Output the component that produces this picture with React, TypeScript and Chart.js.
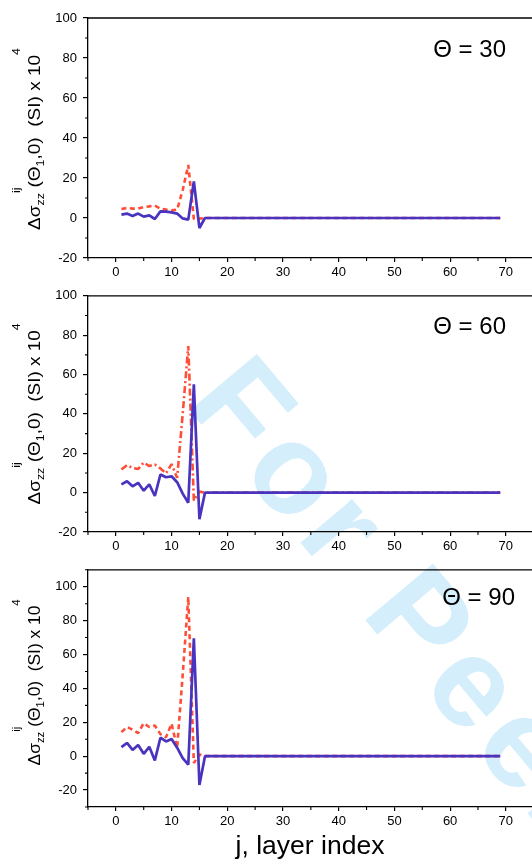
import React, { useEffect, useRef } from "react";
import { Chart, registerables } from "chart.js";

Chart.register(...registerables);

// ---------- data ----------
const layers = [
  1, 2, 3, 4, 5, 6, 7, 8, 9, 10, 11, 12, 13, 14, 15, 16, 17, 18, 19, 20,
  21, 22, 23, 24, 25, 26, 27, 28, 29, 30, 31, 32, 33, 34, 35, 36, 37, 38, 39, 40,
  41, 42, 43, 44, 45, 46, 47, 48, 49, 50, 51, 52, 53, 54, 55, 56, 57, 58, 59, 60,
  61, 62, 63, 64, 65, 66, 67, 68, 69,
];

// values for layers 17..69 (flat at zero in every panel)
const flatTail = [
  0, 0, 0, 0, 0, 0, 0, 0, 0, 0, 0, 0, 0, 0, 0, 0, 0, 0, 0, 0,
  0, 0, 0, 0, 0, 0, 0, 0, 0, 0, 0, 0, 0, 0, 0, 0, 0, 0, 0, 0,
  0, 0, 0, 0, 0, 0, 0, 0, 0, 0, 0, 0, 0,
];

// layers 1..16
const theta30Blue = [1.7, 2.2, 1.0, 2.2, 0.7, 1.3, -0.5, 3.3, 3.2, 2.8, 2.2, -0.2, -0.8, 18.3, -5.0, 0];
const theta30Red = [4.5, 5.0, 4.7, 4.7, 5.5, 5.8, 6.2, 4.7, 4.2, 3.8, 4.2, 14.0, 26.5, -0.5, -0.3, 0];
const theta60Blue = [4.2, 5.8, 3.2, 5.0, 1.0, 4.2, -1.7, 9.2, 7.8, 8.3, 5.3, -0.5, -5.1, 55.0, -13.5, 0];
const theta60Red = [11.7, 14.0, 12.5, 12.0, 15.3, 13.5, 14.3, 12.3, 9.8, 14.5, 7.5, 40.0, 74.5, -4.0, 0.5, 0];
const theta90Blue = [5.3, 7.8, 3.7, 6.6, 1.4, 5.5, -2.5, 10.9, 8.7, 10.1, 5.0, -1.2, -5.0, 69.6, -17.0, 0];
const theta90Red = [14.2, 17.2, 15.6, 13.6, 19.5, 17.2, 18.1, 13.0, 11.1, 19.2, 5.0, 48.0, 94.0, -4.0, 1.0, 0];

const panelTitles = ["\u0398 = 30", "\u0398 = 60", "\u0398 = 90"];
const xAxisTitle = "j, layer index";

const xTicks = [0, 10, 20, 30, 40, 50, 60, 70];
const xMinorTicks = [-5, 5, 15, 25, 35, 45, 55, 65];
const yTicks = [-20, 0, 20, 40, 60, 80, 100];
const yMinorShort = [-10, 10, 30, 50, 70, 90];
const yMinorTall = [-30, -10, 10, 30, 50, 70, 90, 110];

// ---------- styles ----------
const FONT = '"Liberation Sans", Arial, Helvetica, sans-serif';
const BLUE = "rgb(72, 52, 190)";
const RED = "rgb(255, 78, 56)";
const WATERMARK = "rgb(212, 238, 251)";

type Panel = {
  top: number;
  height: number;
  padTop: number;
  xAxisH: number;
  yMin: number;
  yMax: number;
  yMinor: number[];
  blue: number[];
  red: number[];
  redDash: number[];
  title: string;
  titleRight: number;
  titleBase: number;
  showXTitle: boolean;
  yTitleLen: number;
  yTitleShift: number;
};

const panels: Panel[] = [
  {
    top: 0, height: 282, padTop: 18, xAxisH: 24,
    yMin: -20, yMax: 100, yMinor: yMinorShort,
    blue: [...theta30Blue, ...flatTail], red: [...theta30Red, ...flatTail],
    redDash: [5, 3.5], title: panelTitles[0], titleRight: 506, titleBase: 57,
    showXTitle: false, yTitleLen: 182, yTitleShift: 1,
  },
  {
    top: 282, height: 274, padTop: 11, xAxisH: 24,
    yMin: -20, yMax: 100, yMinor: yMinorShort,
    blue: [...theta60Blue, ...flatTail], red: [...theta60Red, ...flatTail],
    redDash: [7, 3, 2, 3], title: panelTitles[1], titleRight: 506, titleBase: 52,
    showXTitle: false, yTitleLen: 181, yTitleShift: 0,
  },
  {
    top: 556, height: 307, padTop: 11, xAxisH: 56,
    yMin: -30, yMax: 110, yMinor: yMinorTall,
    blue: [...theta90Blue, ...flatTail], red: [...theta90Red, ...flatTail],
    redDash: [5, 3.5], title: panelTitles[2], titleRight: 515, titleBase: 49,
    showXTitle: true, yTitleLen: 166, yTitleShift: -6,
  },
];

function drawYTitle(
  ctx: CanvasRenderingContext2D,
  baseX: number,
  centerY: number,
  targetLen: number
) {
  const size = 16;
  const small = 10.5;
  const segs: [string, number][] = [
    ["\u0394\u03c3", 0],
    ["zz", 1],
    ["ij", -1],
    ["(\u0398", 0],
    ["1", 1],
    [",0)  (SI) x 10", 0],
    ["4", -1],
  ];
  const fontOf = (k: number) => `${k === 0 ? size : small}px ${FONT}`;
  let total = 0;
  const widths: number[] = [];
  for (const [t, k] of segs) {
    ctx.font = fontOf(k);
    const w = ctx.measureText(t).width;
    widths.push(w);
    total += w;
  }
  const stretch = targetLen / total;
  ctx.save();
  ctx.translate(baseX, centerY);
  ctx.rotate(-Math.PI / 2);
  ctx.scale(stretch, 1);
  ctx.fillStyle = "#000";
  ctx.textAlign = "left";
  ctx.textBaseline = "alphabetic";
  let cur = -total / 2;
  segs.forEach(([t, k], i) => {
    ctx.font = fontOf(k);
    const dy = k === 1 ? 4 : k === -1 ? -19.5 : 0;
    ctx.fillText(t, cur, dy);
    cur += widths[i];
  });
  ctx.restore();
}

const decorPlugin = {
  id: "decor",
  afterDraw(chart: any, _args: any, opts: any) {
    const { ctx, chartArea } = chart;
    const { left, right, top, bottom } = chartArea;
    const xs = chart.scales.x;
    const ys = chart.scales.y;
    ctx.save();
    ctx.strokeStyle = "#000";
    ctx.lineWidth = 1.3;
    ctx.beginPath();
    ctx.moveTo(left - 0.5, top);
    ctx.lineTo(right, top);
    ctx.stroke();
    ctx.lineWidth = 1.1;
    ctx.beginPath();
    for (const v of opts.xMinor) {
      const px = xs.getPixelForValue(v);
      ctx.moveTo(px, bottom);
      ctx.lineTo(px, bottom + 3);
    }
    for (const v of opts.yMinor) {
      const py = ys.getPixelForValue(v);
      ctx.moveTo(left, py);
      ctx.lineTo(left - 3, py);
    }
    ctx.stroke();
    ctx.fillStyle = "#000";
    ctx.font = `24px ${FONT}`;
    ctx.textAlign = "right";
    ctx.textBaseline = "alphabetic";
    ctx.fillText(opts.title, opts.titleRight, opts.titleBase);
    ctx.restore();
    drawYTitle(ctx, 39.5, (top + bottom) / 2 + opts.yTitleShift, opts.yTitleLen);
  },
};

function PanelChart({ p }: { p: Panel }) {
  const ref = useRef<HTMLCanvasElement>(null);
  useEffect(() => {
    const canvas = ref.current;
    if (!canvas) return;
    const chart = new Chart(canvas, {
      type: "line",
      data: {
        datasets: [
          {
            data: layers.map((x, i) => ({ x, y: p.blue[i] })),
            borderColor: BLUE,
            borderWidth: 2.7,
            borderJoinStyle: "bevel",
            pointRadius: 0,
            fill: false,
          },
          {
            data: layers.map((x, i) => ({ x, y: p.red[i] })),
            borderColor: RED,
            borderWidth: 2.6,
            borderJoinStyle: "bevel",
            borderDash: p.redDash,
            pointRadius: 0,
            fill: false,
          },
        ],
      },
      options: {
        animation: false,
        responsive: false,
        maintainAspectRatio: false,
        events: [],
        layout: { padding: { left: 0, right: 0, top: p.padTop, bottom: 0 } },
        plugins: {
          legend: { display: false },
          tooltip: { enabled: false },
          decor: {
            xMinor: xMinorTicks,
            yMinor: p.yMinor,
            title: p.title,
            titleRight: p.titleRight,
            titleBase: p.titleBase,
            yTitleLen: p.yTitleLen,
            yTitleShift: p.yTitleShift,
          },
        } as any,
        scales: {
          x: {
            type: "linear",
            min: -5,
            max: 74.7,
            afterBuildTicks: (s: any) => {
              s.ticks = xTicks.map((v) => ({ value: v }));
            },
            afterFit: (s: any) => {
              s.height = p.xAxisH;
            },
            grid: {
              display: true,
              drawOnChartArea: false,
              drawTicks: true,
              tickLength: 4,
              color: "#000",
              lineWidth: 1.2,
            },
            border: { display: true, color: "#000", width: 1.3 },
            ticks: {
              color: "#000",
              font: { family: FONT, size: 13 },
              padding: 3,
              maxRotation: 0,
              autoSkip: false,
            },
            title: {
              display: p.showXTitle,
              text: xAxisTitle,
              color: "#000",
              font: { family: FONT, size: 26.5 },
              padding: { top: 0, bottom: 0 },
            },
          },
          y: {
            type: "linear",
            min: p.yMin,
            max: p.yMax,
            afterBuildTicks: (s: any) => {
              s.ticks = yTicks.map((v) => ({ value: v }));
            },
            afterFit: (s: any) => {
              s.width = 88;
            },
            grid: {
              display: true,
              drawOnChartArea: false,
              drawTicks: true,
              tickLength: 5,
              color: "#000",
              lineWidth: 1.2,
            },
            border: { display: true, color: "#000", width: 1.3 },
            ticks: {
              color: "#000",
              font: { family: FONT, size: 13 },
              padding: 6,
              autoSkip: false,
            },
          },
        },
      } as any,
      plugins: [decorPlugin],
    });
    return () => chart.destroy();
  }, [p]);
  return (
    <canvas
      ref={ref}
      width={532}
      height={p.height}
      style={{ position: "absolute", left: 0, top: p.top, width: 532, height: p.height, zIndex: 1 }}
    />
  );
}

export default function App() {
  return (
    <div
      style={{
        position: "fixed",
        left: 0,
        top: 0,
        width: 532,
        height: 863,
        overflow: "hidden",
        background: "#fff",
      }}
    >
      <svg
        width={532}
        height={863}
        style={{ position: "absolute", left: 0, top: 0, zIndex: 0 }}
      >
        <text
          x={184}
          y={404}
          transform="rotate(50 184 404)"
          fontFamily={FONT}
          fontWeight="bold"
          fontSize={128}
          letterSpacing={8}
          fill={WATERMARK}
        >
          For Peer Review
        </text>
      </svg>
      {panels.map((p, i) => (
        <PanelChart key={i} p={p} />
      ))}
    </div>
  );
}
